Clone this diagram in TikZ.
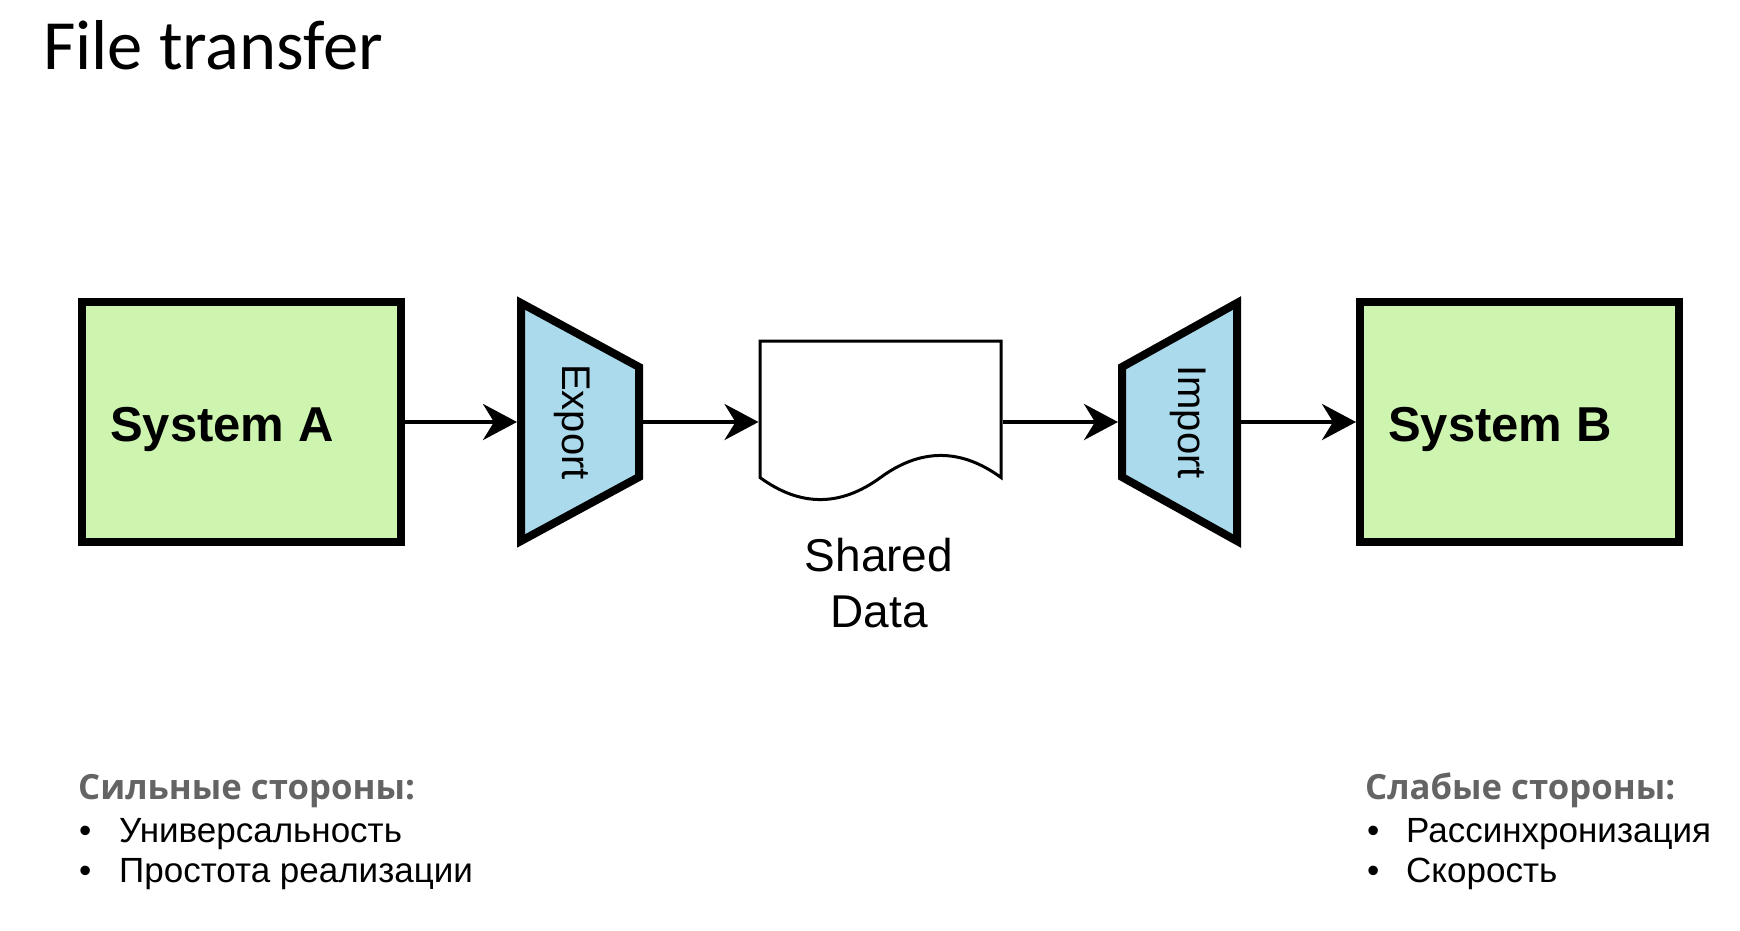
\documentclass[tikz,border=0pt]{standalone}
\usepackage{fontspec}
\setmainfont{Liberation Sans}
\newfontfamily\titlefont{Carlito}
\newfontfamily\headfont{Open Sans}
\usetikzlibrary{arrows.meta}
\definecolor{sysgreen}{RGB}{205,245,176}
\definecolor{trapblue}{RGB}{170,218,236}
\definecolor{headgray}{RGB}{100,100,100}
\begin{document}
\begin{tikzpicture}[x=1pt,y=-1pt,
  sysbox/.style={draw=black, line width=8pt, fill=sysgreen, minimum width=319pt, minimum height=240pt, inner sep=0pt},
  trapshape/.style={draw=black, line width=8pt, fill=trapblue, line join=miter},
  holder/.style={inner sep=0pt, outer sep=0pt, minimum width=#1, minimum height=244pt},
  conn/.style={line width=4pt, -{Stealth[length=34pt,width=36pt,inset=11pt]}},
  systext/.style={anchor=base west, inner sep=0pt, font=\bfseries\fontsize{49}{58}\selectfont},
  rottext/.style={rotate=-90, inner sep=0pt, font=\fontsize{40}{48}\selectfont},
  headtext/.style={anchor=base west, inner sep=0pt, text=headgray, font=\headfont\bfseries\fontsize{34.7}{40}\selectfont},
  itemtext/.style={anchor=base west, inner sep=0pt, font=\fontsize{35}{40}\selectfont}
]
\useasboundingbox (0,0) rectangle (1740,930);
\fill[white] (0,0) rectangle (1740,930);

% title
\node[anchor=base west, inner sep=0pt, font=\titlefont\fontsize{70.6}{80}\selectfont] (title) at (43,69) {File transfer};

% systems
\node[sysbox] (sysA) at (241.5,422) {};
\node[systext] (sysAtext) at (110,441) {System A};
\node[sysbox] (sysB) at (1519.5,422) {};
\node[systext] (sysBtext) at (1388,441) {System B};

% export trapezoid
\draw[trapshape] (521,303) -- (639,367) -- (639,477) -- (521,541) -- cycle;
\node[holder=126pt] (exp) at (580,422) {};
\node[rottext] (exptext) at (572,422) {Export};

% import trapezoid
\draw[trapshape] (1237,303) -- (1237,541) -- (1122,477) -- (1122,367) -- cycle;
\node[holder=123pt] (imp) at (1179.5,422) {};
\node[rottext] (imptext) at (1188,422) {Import};

% document
\draw[line width=3pt, fill=white, line join=miter] (760,341) -- (1001,341) -- (1001,477.5)
  .. controls (960.83,448.1) and (920.67,448.1) .. (880.5,477.5)
  .. controls (840.33,506.9) and (800.17,506.9) .. (760,477.5) -- cycle;
\node[inner sep=0pt, outer sep=1.5pt, minimum width=241pt, minimum height=161pt] (doc) at (880.5,422) {};
\node[anchor=base, inner sep=0pt, font=\fontsize{46}{56}\selectfont] (shared1) at (879,571) {Shared};
\node[anchor=base, inner sep=0pt, font=\fontsize{46}{56}\selectfont] (shared2) at (879,627) {Data};

% connectors
\draw[conn] (sysA.east) -- (exp.west);
\draw[conn] (exp.east) -- (doc.west);
\draw[conn] (doc.east) -- (imp.west);
\draw[conn] (imp.east) -- (sysB.west);

% strengths
\node[headtext] (strong) at (78,799) {Сильные стороны:};
\node[itemtext] (s1) at (79,842) {\makebox[40pt][l]{•}Универсальность};
\node[itemtext] (s2) at (79,882) {\makebox[40pt][l]{•}Простота реализации};

% weaknesses
\node[headtext] (weak) at (1365,799) {Слабые стороны:};
\node[itemtext] (w1) at (1367,842) {\makebox[39pt][l]{•}Рассинхронизация};
\node[itemtext] (w2) at (1367,882) {\makebox[39pt][l]{•}Скорость};
\end{tikzpicture}
\end{document}
